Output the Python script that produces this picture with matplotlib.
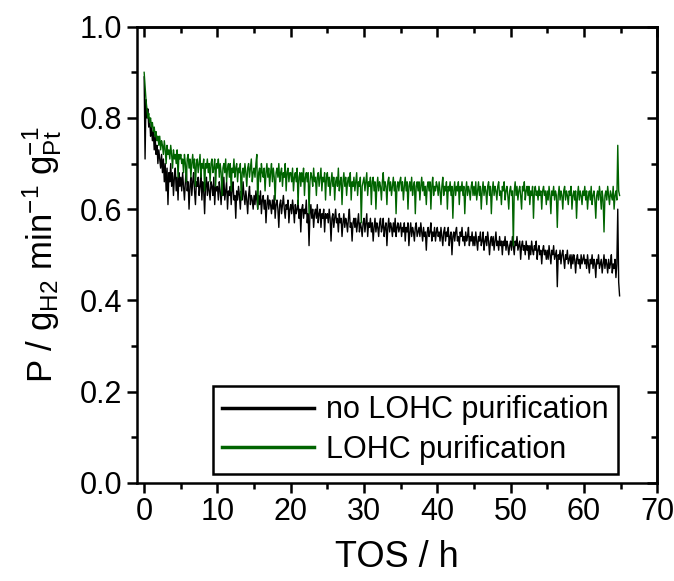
#!/usr/bin/env python3
"""
Productivity vs time on stream, with and without LOHC purification
"""

import matplotlib
matplotlib.use('Agg')
import matplotlib.pyplot as plt
import numpy as np
from matplotlib.ticker import MultipleLocator, FormatStrFormatter

# sampling step of the logged data (h)
step_h = 0.125

# productivity, no LOHC purification (g_H2 / min / g_Pt), 40 values per 5 h
no_purification = [
    0.89, 0.71, 0.84, 0.80, 0.82, 0.78, 0.80, 0.76, 0.78, 0.75,
    0.77, 0.73, 0.76, 0.72, 0.74, 0.70, 0.73, 0.71, 0.69, 0.72,
    0.68, 0.71, 0.66, 0.70, 0.64, 0.69, 0.61, 0.68, 0.66, 0.70,
    0.65, 0.68, 0.63, 0.67, 0.69, 0.64, 0.67, 0.62, 0.68, 0.65,
    # 5 h
    0.67, 0.64, 0.68, 0.65, 0.62, 0.66, 0.69, 0.64, 0.66, 0.60,
    0.65, 0.67, 0.63, 0.66, 0.68, 0.64, 0.61, 0.66, 0.65, 0.67,
    0.63, 0.65, 0.68, 0.62, 0.66, 0.64, 0.59, 0.65, 0.67, 0.63,
    0.66, 0.64, 0.62, 0.66, 0.65, 0.63, 0.67, 0.61, 0.65, 0.64,
    # 10 h
    0.65, 0.62, 0.66, 0.64, 0.61, 0.65, 0.63, 0.67, 0.62, 0.64,
    0.66, 0.60, 0.64, 0.63, 0.65, 0.61, 0.64, 0.66, 0.62, 0.63,
    0.58, 0.64, 0.62, 0.65, 0.63, 0.60, 0.64, 0.62, 0.66, 0.63,
    0.61, 0.64, 0.62, 0.59, 0.63, 0.65, 0.61, 0.63, 0.62, 0.60,
    # 15 h
    0.63, 0.61, 0.64, 0.62, 0.60, 0.63, 0.61, 0.64, 0.59, 0.62,
    0.63, 0.60, 0.62, 0.57, 0.61, 0.63, 0.60, 0.62, 0.61, 0.59,
    0.62, 0.60, 0.63, 0.58, 0.61, 0.62, 0.60, 0.56, 0.61, 0.62,
    0.59, 0.61, 0.63, 0.60, 0.58, 0.61, 0.60, 0.62, 0.57, 0.60,
    # 20 h
    0.61, 0.59, 0.62, 0.60, 0.57, 0.61, 0.59, 0.60, 0.62, 0.58,
    0.60, 0.55, 0.60, 0.61, 0.58, 0.60, 0.59, 0.62, 0.57, 0.59,
    0.52, 0.59, 0.61, 0.58, 0.60, 0.56, 0.59, 0.60, 0.58, 0.61,
    0.57, 0.59, 0.60, 0.56, 0.59, 0.58, 0.60, 0.55, 0.59, 0.58,
    # 25 h
    0.59, 0.57, 0.60, 0.58, 0.53, 0.58, 0.59, 0.56, 0.58, 0.60,
    0.57, 0.58, 0.55, 0.59, 0.57, 0.58, 0.54, 0.57, 0.59, 0.56,
    0.58, 0.57, 0.55, 0.58, 0.60, 0.56, 0.57, 0.53, 0.57, 0.58,
    0.56, 0.58, 0.55, 0.57, 0.59, 0.55, 0.57, 0.56, 0.54, 0.57,
    # 30 h
    0.58, 0.55, 0.57, 0.59, 0.54, 0.57, 0.56, 0.58, 0.55, 0.57,
    0.53, 0.56, 0.58, 0.55, 0.57, 0.56, 0.54, 0.57, 0.58, 0.55,
    0.56, 0.58, 0.54, 0.56, 0.57, 0.52, 0.56, 0.58, 0.55, 0.57,
    0.56, 0.54, 0.57, 0.55, 0.58, 0.54, 0.56, 0.57, 0.55, 0.56,
    # 35 h
    0.57, 0.54, 0.56, 0.55, 0.57, 0.53, 0.56, 0.55, 0.57, 0.52,
    0.55, 0.57, 0.54, 0.56, 0.55, 0.53, 0.56, 0.57, 0.54, 0.55,
    0.56, 0.54, 0.57, 0.55, 0.53, 0.56, 0.54, 0.55, 0.51, 0.55,
    0.56, 0.54, 0.55, 0.57, 0.53, 0.55, 0.54, 0.56, 0.53, 0.55,
    # 40 h
    0.56, 0.54, 0.55, 0.53, 0.56, 0.54, 0.52, 0.55, 0.56, 0.53,
    0.55, 0.54, 0.56, 0.52, 0.54, 0.55, 0.50, 0.54, 0.55, 0.53,
    0.55, 0.56, 0.53, 0.54, 0.52, 0.55, 0.54, 0.56, 0.53, 0.54,
    0.52, 0.55, 0.53, 0.54, 0.56, 0.52, 0.54, 0.53, 0.55, 0.52,
    # 45 h
    0.54, 0.52, 0.55, 0.53, 0.51, 0.54, 0.53, 0.55, 0.52, 0.53,
    0.55, 0.51, 0.53, 0.54, 0.52, 0.55, 0.53, 0.50, 0.53, 0.54,
    0.52, 0.54, 0.51, 0.53, 0.55, 0.52, 0.53, 0.51, 0.54, 0.52,
    0.53, 0.50, 0.53, 0.52, 0.54, 0.51, 0.53, 0.52, 0.50, 0.52,
    # 50 h
    0.53, 0.51, 0.54, 0.52, 0.50, 0.53, 0.52, 0.54, 0.51, 0.52,
    0.53, 0.49, 0.52, 0.53, 0.51, 0.52, 0.50, 0.53, 0.51, 0.52,
    0.49, 0.52, 0.50, 0.53, 0.51, 0.50, 0.52, 0.51, 0.53, 0.49,
    0.51, 0.52, 0.50, 0.51, 0.48, 0.51, 0.52, 0.50, 0.51, 0.49,
    # 55 h
    0.51, 0.49, 0.52, 0.50, 0.48, 0.51, 0.50, 0.52, 0.49, 0.50,
    0.51, 0.43, 0.50, 0.49, 0.51, 0.48, 0.50, 0.51, 0.49, 0.47,
    0.50, 0.49, 0.51, 0.48, 0.49, 0.50, 0.47, 0.50, 0.48, 0.50,
    0.49, 0.46, 0.49, 0.50, 0.48, 0.49, 0.47, 0.50, 0.48, 0.49,
    # 60 h
    0.50, 0.48, 0.49, 0.47, 0.50, 0.48, 0.46, 0.49, 0.48, 0.50,
    0.47, 0.49, 0.48, 0.45, 0.49, 0.48, 0.50, 0.47, 0.48, 0.49,
    0.46, 0.48, 0.50, 0.47, 0.49, 0.48, 0.46, 0.49, 0.47, 0.48,
    0.50, 0.46, 0.48, 0.47, 0.49, 0.45, 0.48, 0.60, 0.44, 0.41,
]

# productivity, with LOHC purification
with_purification = [
    0.90, 0.87, 0.84, 0.82, 0.80, 0.81, 0.79, 0.80, 0.78, 0.79,
    0.77, 0.78, 0.76, 0.77, 0.75, 0.76, 0.74, 0.76, 0.73, 0.75,
    0.74, 0.72, 0.75, 0.73, 0.70, 0.74, 0.72, 0.73, 0.71, 0.74,
    0.72, 0.69, 0.73, 0.71, 0.72, 0.70, 0.73, 0.67, 0.72, 0.71,
    # 5 h
    0.72, 0.70, 0.71, 0.68, 0.72, 0.70, 0.66, 0.71, 0.72, 0.69,
    0.71, 0.67, 0.70, 0.72, 0.69, 0.71, 0.65, 0.70, 0.71, 0.68,
    0.70, 0.72, 0.67, 0.70, 0.69, 0.71, 0.64, 0.70, 0.69, 0.71,
    0.68, 0.70, 0.66, 0.70, 0.71, 0.68, 0.69, 0.71, 0.65, 0.70,
    # 10 h
    0.69, 0.71, 0.67, 0.70, 0.68, 0.63, 0.69, 0.70, 0.68, 0.71,
    0.66, 0.69, 0.70, 0.67, 0.70, 0.64, 0.69, 0.68, 0.71, 0.67,
    0.69, 0.70, 0.66, 0.69, 0.68, 0.70, 0.62, 0.68, 0.69, 0.67,
    0.70, 0.68, 0.65, 0.69, 0.70, 0.67, 0.69, 0.71, 0.66, 0.68,
    # 15 h
    0.69, 0.67, 0.70, 0.72, 0.60, 0.68, 0.69, 0.66, 0.70, 0.68,
    0.67, 0.69, 0.64, 0.68, 0.70, 0.67, 0.69, 0.65, 0.68, 0.70,
    0.66, 0.69, 0.67, 0.62, 0.68, 0.69, 0.67, 0.70, 0.66, 0.68,
    0.69, 0.65, 0.68, 0.67, 0.70, 0.64, 0.68, 0.69, 0.66, 0.68,
    # 20 h
    0.68, 0.66, 0.69, 0.64, 0.67, 0.68, 0.66, 0.69, 0.61, 0.67,
    0.68, 0.65, 0.68, 0.66, 0.69, 0.63, 0.67, 0.68, 0.66, 0.68,
    0.59, 0.66, 0.68, 0.67, 0.65, 0.69, 0.66, 0.67, 0.63, 0.67,
    0.68, 0.65, 0.67, 0.69, 0.64, 0.67, 0.66, 0.68, 0.62, 0.67,
    # 25 h
    0.68, 0.65, 0.67, 0.63, 0.66, 0.68, 0.65, 0.67, 0.62, 0.66,
    0.67, 0.65, 0.69, 0.64, 0.66, 0.67, 0.61, 0.66, 0.68, 0.65,
    0.67, 0.63, 0.66, 0.67, 0.65, 0.68, 0.62, 0.66, 0.65, 0.67,
    0.64, 0.66, 0.68, 0.63, 0.66, 0.65, 0.67, 0.57, 0.65, 0.66,
    # 30 h
    0.67, 0.64, 0.66, 0.68, 0.63, 0.66, 0.65, 0.67, 0.61, 0.66,
    0.67, 0.64, 0.66, 0.60, 0.65, 0.67, 0.64, 0.66, 0.65, 0.62,
    0.66, 0.68, 0.64, 0.66, 0.65, 0.61, 0.66, 0.67, 0.64, 0.66,
    0.63, 0.65, 0.67, 0.64, 0.66, 0.59, 0.65, 0.66, 0.64, 0.66,
    # 35 h
    0.67, 0.64, 0.66, 0.62, 0.65, 0.67, 0.64, 0.66, 0.60, 0.65,
    0.66, 0.64, 0.67, 0.63, 0.65, 0.66, 0.59, 0.65, 0.66, 0.64,
    0.66, 0.62, 0.65, 0.67, 0.64, 0.66, 0.63, 0.65, 0.61, 0.65,
    0.66, 0.64, 0.66, 0.60, 0.65, 0.67, 0.63, 0.65, 0.64, 0.66,
    # 40 h
    0.65, 0.63, 0.66, 0.64, 0.61, 0.65, 0.67, 0.63, 0.65, 0.64,
    0.66, 0.60, 0.65, 0.64, 0.66, 0.63, 0.65, 0.58, 0.64, 0.66,
    0.63, 0.65, 0.64, 0.66, 0.61, 0.65, 0.64, 0.66, 0.63, 0.65,
    0.59, 0.64, 0.66, 0.63, 0.65, 0.64, 0.62, 0.65, 0.66, 0.63,
    # 45 h
    0.65, 0.63, 0.66, 0.62, 0.64, 0.66, 0.63, 0.65, 0.60, 0.64,
    0.66, 0.63, 0.65, 0.64, 0.61, 0.65, 0.66, 0.63, 0.65, 0.59,
    0.64, 0.66, 0.63, 0.65, 0.64, 0.62, 0.65, 0.66, 0.63, 0.64,
    0.61, 0.65, 0.64, 0.66, 0.62, 0.64, 0.65, 0.63, 0.60, 0.64,
    # 50 h
    0.65, 0.63, 0.64, 0.52, 0.64, 0.66, 0.63, 0.65, 0.62, 0.64,
    0.65, 0.63, 0.60, 0.65, 0.64, 0.66, 0.62, 0.64, 0.65, 0.63,
    0.65, 0.61, 0.64, 0.63, 0.65, 0.58, 0.64, 0.65, 0.63, 0.64,
    0.62, 0.65, 0.63, 0.64, 0.60, 0.64, 0.65, 0.63, 0.64, 0.61,
    # 55 h
    0.64, 0.62, 0.65, 0.63, 0.59, 0.64, 0.63, 0.65, 0.62, 0.64,
    0.63, 0.56, 0.63, 0.65, 0.62, 0.64, 0.63, 0.60, 0.64, 0.65,
    0.62, 0.64, 0.63, 0.61, 0.64, 0.63, 0.65, 0.60, 0.63, 0.64,
    0.62, 0.64, 0.58, 0.63, 0.65, 0.62, 0.64, 0.63, 0.61, 0.64,
    # 60 h
    0.63, 0.65, 0.62, 0.64, 0.60, 0.63, 0.64, 0.62, 0.65, 0.61,
    0.63, 0.64, 0.62, 0.58, 0.63, 0.64, 0.62, 0.65, 0.63, 0.60,
    0.64, 0.62, 0.55, 0.63, 0.64, 0.62, 0.65, 0.63, 0.61, 0.64,
    0.63, 0.62, 0.65, 0.60, 0.63, 0.64, 0.62, 0.74, 0.64, 0.63,
]

labels = ['no LOHC purification', 'LOHC purification']
colors = ['black', '#006400']

plt.rcParams['font.family'] = ['Liberation Sans', 'DejaVu Sans']
plt.rcParams['mathtext.default'] = 'regular'

fig = plt.figure(figsize=(6.74, 5.81), dpi=100)
ax = fig.add_axes([0.203, 0.169, 0.772, 0.785])

for vals, lab, col in zip([no_purification, with_purification], labels, colors):
    tos = np.arange(len(vals)) * step_h
    ax.plot(tos, vals, color=col, linewidth=1.0, label=lab)

ax.set_xlim(-1, 70)
ax.set_ylim(0, 1.0)
ax.xaxis.set_major_locator(MultipleLocator(10))
ax.xaxis.set_minor_locator(MultipleLocator(5))
ax.yaxis.set_major_locator(MultipleLocator(0.2))
ax.yaxis.set_minor_locator(MultipleLocator(0.1))
ax.yaxis.set_major_formatter(FormatStrFormatter('%.1f'))

for sp in ax.spines.values():
    sp.set_linewidth(1.8)
ax.tick_params(which='both', width=1.8, labelsize=22, direction='out',
               top=False, right=False)
ax.tick_params(which='major', length=7)
ax.tick_params(which='minor', length=4)

# inward ticks on top and right
top = ax.secondary_xaxis('top')
top.xaxis.set_major_locator(MultipleLocator(10))
top.xaxis.set_minor_locator(MultipleLocator(5))
right = ax.secondary_yaxis('right')
right.yaxis.set_major_locator(MultipleLocator(0.2))
right.yaxis.set_minor_locator(MultipleLocator(0.1))
for side in (top, right):
    side.tick_params(which='both', direction='in', width=1.8,
                     labeltop=False, labelright=False)
    side.tick_params(which='major', length=7)
    side.tick_params(which='minor', length=4)
    for sp in side.spines.values():
        sp.set_linewidth(1.8)

ax.set_xlabel('TOS / h', fontsize=26, labelpad=9)
ax.set_ylabel(r'P / g$_{H2}$ min$^{-1}$ g$_{Pt}^{-1}$', fontsize=25, labelpad=11)

leg = ax.legend(loc='lower right', bbox_to_anchor=(0.925, 0.02), fontsize=22,
                frameon=True, fancybox=False, edgecolor='black', framealpha=1.0,
                handlelength=3.0, handletextpad=0.4, labelspacing=0.3,
                borderpad=0.3, borderaxespad=0.0)
leg.get_frame().set_linewidth(1.8)
for line in leg.get_lines():
    line.set_linewidth(2.5)

plt.savefig('out.png', dpi=100)
plt.close()
